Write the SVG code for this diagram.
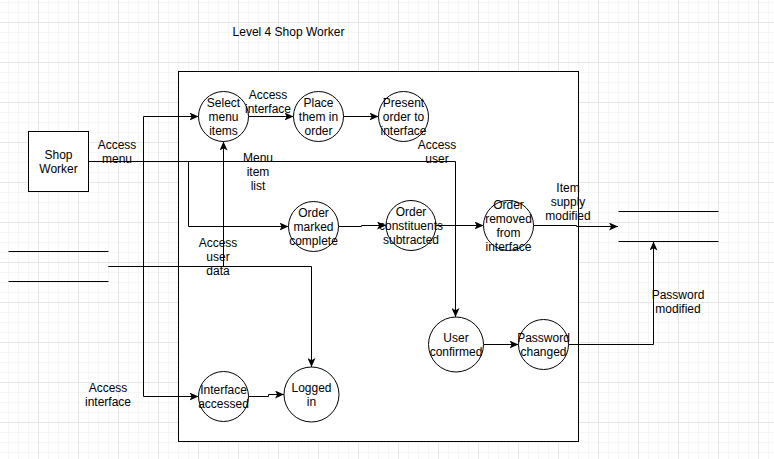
<svg xmlns="http://www.w3.org/2000/svg" width="774" height="459" viewBox="0 0 774 459">
<style>
.t{font-family:"Liberation Sans",Arial,Helvetica,sans-serif;font-size:12px;text-anchor:middle;fill:#000}
.n{fill:#fff;stroke:#000;stroke-width:1}
.e{fill:none;stroke:#000;stroke-width:1}
.ea{fill:none;stroke:#000;stroke-width:1;marker-end:url(#arr)}
</style>
<defs>
<pattern id="grid" x="-2" y="22" width="40" height="40" patternUnits="userSpaceOnUse">
<rect x="10" y="0" width="1" height="40" fill="#f5f5f5"/>
<rect x="20" y="0" width="1" height="40" fill="#f5f5f5"/>
<rect x="30" y="0" width="1" height="40" fill="#f5f5f5"/>
<rect x="0" y="10" width="40" height="1" fill="#f5f5f5"/>
<rect x="0" y="20" width="40" height="1" fill="#f5f5f5"/>
<rect x="0" y="30" width="40" height="1" fill="#f5f5f5"/>
<rect x="0" y="0" width="1" height="40" fill="#e6e6e6"/>
<rect x="0" y="0" width="40" height="1" fill="#e6e6e6"/>
</pattern>
<marker id="arr" viewBox="0 0 9 8" refX="9" refY="4" markerWidth="9" markerHeight="8" markerUnits="userSpaceOnUse" orient="auto">
<path d="M0,0 L9,4 L0,8 L2.2,4 Z" fill="#000"/>
</marker>
</defs>
<rect x="0" y="0" width="774" height="459" fill="#fff"/>
<rect x="0" y="0" width="774" height="459" fill="url(#grid)"/>

<g id="title"><text class="t" x="288.5" y="36">Level 4 Shop Worker</text></g>

<g id="boundary"><rect class="n" x="178.5" y="71.5" width="400" height="370"/></g>

<g id="connectors">
<path class="ea" d="M88.5,161.5 L143.5,161.5 L143.5,116.5 L198.5,116.5"/>
<path class="ea" d="M88.5,161.5 L143.5,161.5 L143.5,396.5 L198.5,396.5"/>
<path class="ea" d="M88.5,161.5 L188.5,161.5 L188.5,226.5 L288.5,226.5"/>
<path class="ea" d="M88.5,161.5 L455.5,161.5 L455.5,317"/>
<path class="ea" d="M248.5,116.5 L293.5,116.5"/>
<path class="ea" d="M343.5,116.5 L378.5,116.5"/>
<path class="ea" d="M338.5,226.5 L361.5,226.5 L361.5,225.5 L386,225.5"/>
<path class="ea" d="M436,225.5 L483.5,225.5"/>
<path class="ea" d="M533.5,225.5 L576.5,225.5 L576.5,226.5 L618,226.5"/>
<path class="ea" d="M483.5,344.5 L518.5,344.5"/>
<path class="ea" d="M568.5,344.5 L653.5,344.5 L653.5,241.5"/>
<path class="ea" d="M248.5,396.5 L268.5,396.5 L268.5,394.5 L284,394.5"/>
<path class="ea" d="M108.5,266.5 L311.5,266.5 L311.5,367"/>
<path class="ea" d="M108.5,266.5 L223.5,266.5 L223.5,141.5"/>
</g>

<g id="shop-worker"><rect class="n" x="28.5" y="131.5" width="60" height="60"/>
<text class="t" x="58.5" y="159">Shop<tspan x="58.5" dy="14">Worker</tspan></text></g>

<g id="store-left"><path class="e" d="M8.5,251.5 L108.5,251.5 M8.5,281.5 L108.5,281.5"/></g>
<g id="store-right"><path class="e" d="M618.5,211.5 L718.5,211.5 M618.5,241.5 L718.5,241.5"/></g>

<g id="select-menu-items"><circle class="n" cx="223.5" cy="116.5" r="25"/>
<text class="t" x="223.5" y="107">Select<tspan x="223.5" dy="14">menu</tspan><tspan x="223.5" dy="14">items</tspan></text></g>
<g id="place-in-order"><circle class="n" cx="318.5" cy="116.5" r="25"/>
<text class="t" x="318.5" y="107">Place<tspan x="318.5" dy="14">them in</tspan><tspan x="318.5" dy="14">order</tspan></text></g>
<g id="present-order"><circle class="n" cx="403.5" cy="116.5" r="25"/>
<text class="t" x="403.5" y="107">Present<tspan x="403.5" dy="14">order to</tspan><tspan x="403.5" dy="14">interface</tspan></text></g>
<g id="order-marked"><circle class="n" cx="313.5" cy="226.5" r="25"/>
<text class="t" x="313.5" y="217">Order<tspan x="313.5" dy="14">marked</tspan><tspan x="313.5" dy="14">complete</tspan></text></g>
<g id="order-constituents"><circle class="n" cx="411" cy="225.5" r="25"/>
<text class="t" x="411" y="216">Order<tspan x="411" dy="14">constituents</tspan><tspan x="411" dy="14">subtracted</tspan></text></g>
<g id="order-removed"><circle class="n" cx="508.5" cy="225.5" r="25"/>
<text class="t" x="508.5" y="209">Order<tspan x="508.5" dy="14">removed</tspan><tspan x="508.5" dy="14">from</tspan><tspan x="508.5" dy="14">interface</tspan></text></g>
<g id="user-confirmed"><circle class="n" cx="456" cy="344.5" r="27.5"/>
<text class="t" x="456" y="342">User<tspan x="456" dy="14">confirmed</tspan></text></g>
<g id="password-changed"><circle class="n" cx="543.5" cy="344.5" r="25"/>
<text class="t" x="543.5" y="342">Password<tspan x="543.5" dy="14">changed</tspan></text></g>
<g id="interface-accessed"><circle class="n" cx="223.5" cy="396.5" r="25"/>
<text class="t" x="223.5" y="394">Interface<tspan x="223.5" dy="14">accessed</tspan></text></g>
<g id="logged-in"><circle class="n" cx="311.5" cy="394.5" r="27.5"/>
<text class="t" x="311.5" y="392">Logged<tspan x="311.5" dy="14">in</tspan></text></g>

<g id="labels">
<text class="t" x="117" y="149">Access<tspan x="117" dy="14">menu</tspan></text>
<text class="t" x="258" y="162">Menu<tspan x="258" dy="14">item</tspan><tspan x="258" dy="14">list</tspan></text>
<text class="t" x="437" y="149">Access<tspan x="437" dy="14">user</tspan></text>
<text class="t" x="268" y="99">Access<tspan x="268" dy="14">interface</tspan></text>
<text class="t" x="218" y="247">Access<tspan x="218" dy="14">user</tspan><tspan x="218" dy="14">data</tspan></text>
<text class="t" x="108" y="392">Access<tspan x="108" dy="14">interface</tspan></text>
<text class="t" x="568" y="192">Item<tspan x="568" dy="14">supply</tspan><tspan x="568" dy="14">modified</tspan></text>
<text class="t" x="678" y="298.5">Password<tspan x="678" dy="14">modified</tspan></text>
</g>
</svg>
